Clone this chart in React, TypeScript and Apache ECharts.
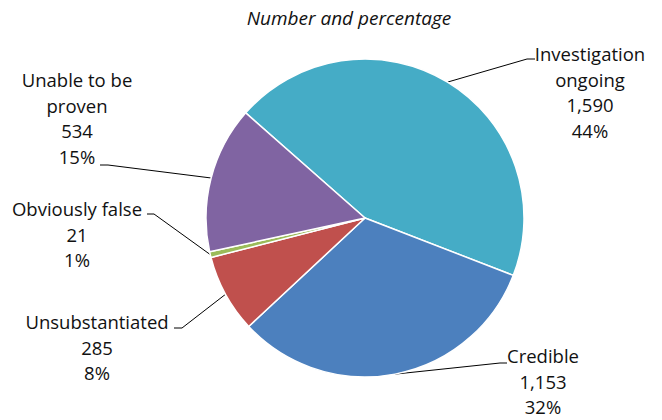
import React, { useEffect, useRef } from "react";
import * as echarts from "echarts";

const categories = ["Investigation ongoing", "Credible", "Unsubstantiated", "Obviously false", "Unable to be proven"];
const labelTexts = ["Investigation\nongoing", "Credible", "Unsubstantiated", "Obviously false", "Unable to be\nproven"];
const values = [1590, 1153, 285, 21, 534];
const colors = ["#45ACC6", "#4C80BE", "#C0504D", "#9BBB59", "#8064A2"];

// label placement (layout only): text centre x, text top y, leader bend and end points
const labelPlaces = [
  { cx: 590, top: 41, bend: [527, 59], end: [535, 59] },
  { cx: 543, top: 343, bend: [500, 363], end: [507, 363] },
  { cx: 97, top: 309, bend: [182, 328], end: [174, 328] },
  { cx: 77, top: 196, bend: [154, 214], end: [147, 214] },
  { cx: 77, top: 67, bend: [108, 165], end: [100, 165] },
];

const FONT = "Open Sans";

export default function App() {
  const ref = useRef<HTMLDivElement>(null);
  useEffect(() => {
    const chart = echarts.init(ref.current!, null, { renderer: "svg" });
    chart.setOption({
      animation: false,
      backgroundColor: "#ffffff",
      title: {
        text: "Number and percentage",
        left: 344,
        top: 3,
        textAlign: "center",
        textStyle: { fontFamily: FONT, fontStyle: "italic", fontWeight: "normal", fontSize: 19, color: "#111111" },
      },
      series: [
        {
          type: "pie",
          center: [365, 218],
          radius: 159,
          startAngle: 138.6,
          clockwise: true,
          avoidLabelOverlap: false,
          itemStyle: { borderColor: "#ffffff", borderWidth: 1.5 },
          label: {
            show: true,
            position: "outside",
            fontFamily: FONT,
            fontSize: 18.5,
            lineHeight: 25.5,
            color: "#111111",
            align: "center",
            formatter: (p: any) =>
              `${labelTexts[p.dataIndex]}\n${Number(p.value).toLocaleString("en-US")}\n${Math.round(p.percent)}%`,
          },
          labelLine: { show: true, lineStyle: { color: "#000000", width: 1 }, smooth: false },
          labelLayout: (params: any) => {
            const pl = labelPlaces[params.dataIndex];
            const start = params.labelLinePoints ? params.labelLinePoints[0] : pl.bend;
            return {
              x: pl.cx,
              y: pl.top,
              align: "center",
              verticalAlign: "top",
              labelLinePoints: [start, pl.bend, pl.end],
            };
          },
          data: categories.map((name, i) => ({ name, value: values[i], itemStyle: { color: colors[i] } })),
        },
      ],
    });
    return () => chart.dispose();
  }, []);
  return <div ref={ref} style={{ position: "fixed", left: 0, top: 0, width: 662, height: 420 }} />;
}
